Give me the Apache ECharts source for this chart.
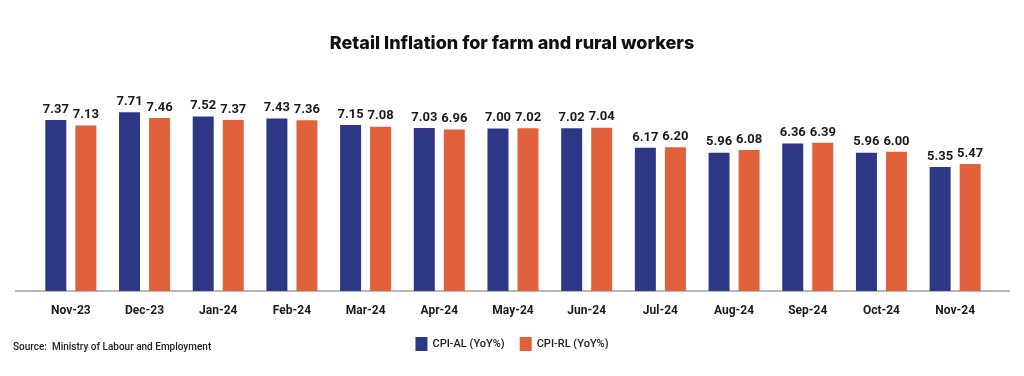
<!DOCTYPE html>
<html>
<head>
<meta charset="utf-8">
<script src="https://cdn.jsdelivr.net/npm/echarts@6/dist/echarts.min.js"></script>
<style>
html,body{margin:0;padding:0;background:#fff;}
#canvas{width:1024px;height:376px;}
</style>
</head>
<body>
<div id="canvas"></div>
<script>
var months = ['Nov-23','Dec-23','Jan-24','Feb-24','Mar-24','Apr-24','May-24','Jun-24','Jul-24','Aug-24','Sep-24','Oct-24','Nov-24'];
var cpiAL = [7.37,7.71,7.52,7.43,7.15,7.03,7.00,7.02,6.17,5.96,6.36,5.96,5.35];
var cpiRL = [7.13,7.46,7.37,7.36,7.08,6.96,7.02,7.04,6.20,6.08,6.39,6.00,5.47];
var seriesNames = ['CPI-AL (YoY%)','CPI-RL (YoY%)'];

var myChart = echarts.init(document.getElementById('canvas'));

function barSeries(name, vals, color){
    return {
        name: name,
        type: 'bar',
        data: vals,
        barWidth: 21,
        barGap: '43%',
        itemStyle: {color: color},
        label: {
            show: true,
            position: 'top',
            distance: 4,
            formatter: function(p){ return p.value.toFixed(2); },
            fontFamily: 'Roboto',
            fontWeight: 'bold',
            fontSize: 13,
            color: '#1a1a1a'
        }
    };
}

myChart.setOption({
    animation: false,
    title: {
        text: 'Retail Inflation for farm and rural workers',
        left: 'center',
        top: 30,
        textStyle: {fontFamily: 'Inter', fontWeight: 800, fontSize: 18, color: '#111'}
    },
    legend: {
        data: seriesNames,
        bottom: 20,
        left: 'center',
        itemWidth: 12,
        itemHeight: 14,
        itemGap: 15,
        icon: 'rect',
        textStyle: {fontFamily: 'Roboto', fontSize: 11, color: '#222', fontWeight: 500}
    },
    grid: {left: 34, right: 32, top: 59, bottom: 85},
    xAxis: {
        type: 'category',
        data: months,
        axisLine: {show: false},
        axisTick: {show: false},
        axisLabel: {margin: 14, fontFamily: 'Roboto', fontWeight: 'bold', fontSize: 12, color: '#1a1a1a'}
    },
    yAxis: {
        type: 'value',
        min: 0,
        max: 10,
        show: false,
        splitLine: {show: false}
    },
    graphic: [
        {type: 'line', shape: {x1: 15, y1: 291, x2: 1010, y2: 291}, style: {stroke: '#a0a0a0', lineWidth: 1.5}},
        {type: 'text', left: 13, top: 342, style: {text: 'Source:  Ministry of Labour and Employment', font: '500 10px Roboto', fill: '#222'}}
    ],
    series: [
        barSeries(seriesNames[0], cpiAL, '#2d3786'),
        barSeries(seriesNames[1], cpiRL, '#e0613b')
    ]
});
</script>
</body>
</html>
